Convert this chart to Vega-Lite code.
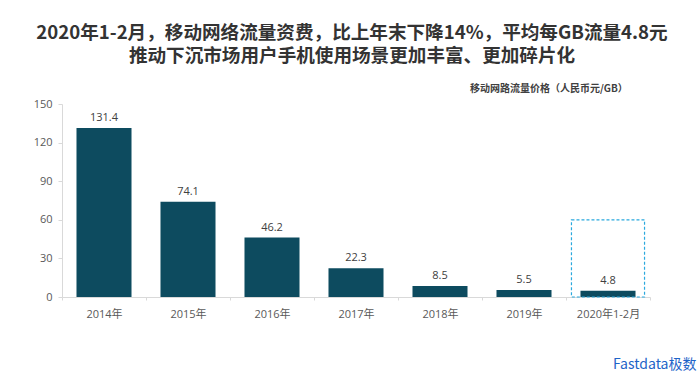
{
  "$schema": "https://vega.github.io/schema/vega-lite/v6.json",
  "width": 588,
  "height": 193,
  "autosize": "none",
  "padding": {"left": 62, "top": 104, "right": 50, "bottom": 92},
  "background": "white",
  "config": {
    "view": {"stroke": null},
    "font": "Open Sans, Noto Sans CJK SC"
  },
  "title": {
    "text": ["2020年1-2月，移动网络流量资费，比上年末下降14%，平均每GB流量4.8元", "推动下沉市场用户手机使用场景更加丰富、更加碎片化"],
    "font": "Noto Sans CJK SC",
    "fontSize": 18.6,
    "fontWeight": "bold",
    "color": "#333333",
    "lineHeight": 23.5,
    "anchor": "middle",
    "dx": -4,
    "offset": 18
  },
  "data": {
    "values": [
      {"period": "2014年", "price": 131.4, "series": "移动网路流量价格（人民币元/GB）", "box": null},
      {"period": "2015年", "price": 74.1, "series": "移动网路流量价格（人民币元/GB）", "box": null},
      {"period": "2016年", "price": 46.2, "series": "移动网路流量价格（人民币元/GB）", "box": null},
      {"period": "2017年", "price": 22.3, "series": "移动网路流量价格（人民币元/GB）", "box": null},
      {"period": "2018年", "price": 8.5, "series": "移动网路流量价格（人民币元/GB）", "box": null},
      {"period": "2019年", "price": 5.5, "series": "移动网路流量价格（人民币元/GB）", "box": null},
      {"period": "2020年1-2月", "price": 4.8, "series": "移动网路流量价格（人民币元/GB）", "box": 60}
    ]
  },
  "encoding": {
    "x": {
      "field": "period",
      "type": "nominal",
      "sort": null,
      "scale": {"paddingInner": 0, "paddingOuter": 0},
      "axis": {
        "labelAngle": 0,
        "labelFontSize": 11,
        "labelColor": "#595959",
        "labelPadding": 8,
        "domainColor": "#d9d9d9",
        "tickColor": "#d9d9d9",
        "tickBand": "extent",
        "tickSize": 3,
        "title": "Fastdata极数",
        "titleFont": "Noto Sans CJK SC",
        "titleFontSize": 14,
        "titleFontWeight": "normal",
        "titleColor": "#1e64c8",
        "titleAnchor": "end",
        "titleAlign": "right",
        "titleBaseline": "middle",
        "titleX": 634,
        "titleY": 67
      }
    },
    "y": {
      "field": "price",
      "type": "quantitative",
      "scale": {"domain": [0, 150]},
      "axis": {
        "values": [0, 30, 60, 90, 120, 150],
        "labelOverlap": false,
        "title": null,
        "grid": false,
        "labelFontSize": 11,
        "labelColor": "#595959",
        "labelPadding": 6,
        "domainColor": "#d9d9d9",
        "tickColor": "#d9d9d9",
        "tickSize": 4
      }
    }
  },
  "layer": [
    {
      "mark": {"type": "bar", "width": {"band": 0.655}, "color": "#0d4b5f"},
      "encoding": {
        "color": {
          "field": "series",
          "type": "nominal",
          "scale": {"range": ["#0d4b5f"]},
          "legend": {
            "title": null,
            "orient": "none",
            "legendX": 394,
            "legendY": -20,
            "symbolOpacity": 0,
            "symbolSize": 0,
            "labelFont": "Noto Sans CJK SC",
            "labelFontSize": 10,
            "labelFontWeight": "bold",
            "labelColor": "#404040",
            "labelLimit": 300
          }
        }
      }
    },
    {
      "mark": {"type": "text", "baseline": "bottom", "dy": -5, "fontSize": 11, "color": "#404040"},
      "encoding": {
        "text": {"field": "price", "type": "quantitative", "format": ".1f"}
      }
    },
    {
      "transform": [{"filter": "datum.box != null"}],
      "mark": {"type": "bar", "width": {"band": 0.87}, "filled": false, "stroke": "#2aa9de", "strokeWidth": 1.2, "strokeDash": [3, 2]},
      "encoding": {
        "y": {"field": "box", "type": "quantitative"}
      }
    }
  ]
}
